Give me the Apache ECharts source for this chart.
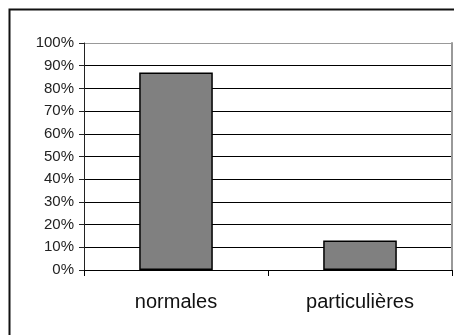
<!DOCTYPE html>
<html>
<head>
<meta charset="utf-8">
<script src="https://cdn.jsdelivr.net/npm/echarts@6/dist/echarts.min.js"></script>
<style>
html,body{margin:0;padding:0;background:#fff;}
#c{width:454px;height:335px;}
</style>
</head>
<body>
<div id="c"></div>
<script>
const categories = ['normales', 'particulières'];
const values = [87, 13];
const gridColors = ['#000','#000','#000','#000','#000','#000','#000','#000','#000','#000','#999'];

const chart = echarts.init(document.getElementById('c'), null, {renderer: 'canvas'});
chart.setOption({
  animation: false,
  backgroundColor: '#fff',
  graphic: [{
    type: 'rect',
    left: 7, top: 7,
    shape: {width: 520, height: 400},
    style: {fill: 'none', stroke: '#111', lineWidth: 2},
    z: 100
  }],
  grid: {left: 84, top: 43, right: 2, bottom: 65, containLabel: false},
  xAxis: {
    type: 'category',
    data: categories,
    boundaryGap: true,
    axisLine: {show: true, lineStyle: {color: '#000', width: 1}},
    axisTick: {show: true, alignWithLabel: false, length: 6, lineStyle: {color: '#000'}},
    axisLabel: {fontFamily: 'Liberation Sans, Arial, sans-serif', fontSize: 20, color: '#111', margin: 22}
  },
  yAxis: [{
    type: 'value',
    min: 0, max: 100, interval: 10,
    axisLine: {show: true, lineStyle: {color: '#222', width: 1}},
    axisTick: {show: true, length: 5, lineStyle: {color: '#222'}},
    axisLabel: {formatter: '{value}%', fontFamily: 'Liberation Sans, Arial, sans-serif', fontSize: 15, color: '#222', margin: 10},
    splitLine: {show: true, lineStyle: {color: gridColors, width: 1}}
  }, {
    type: 'value',
    position: 'right',
    min: 0, max: 100, interval: 10,
    axisLine: {show: true, lineStyle: {color: '#999', width: 2}},
    axisTick: {show: false},
    axisLabel: {show: false},
    splitLine: {show: false}
  }],
  series: [{
    type: 'bar',
    data: values,
    barWidth: '40%',
    itemStyle: {color: '#808080', borderColor: '#000', borderWidth: 1.5}
  }]
});
</script>
</body>
</html>
